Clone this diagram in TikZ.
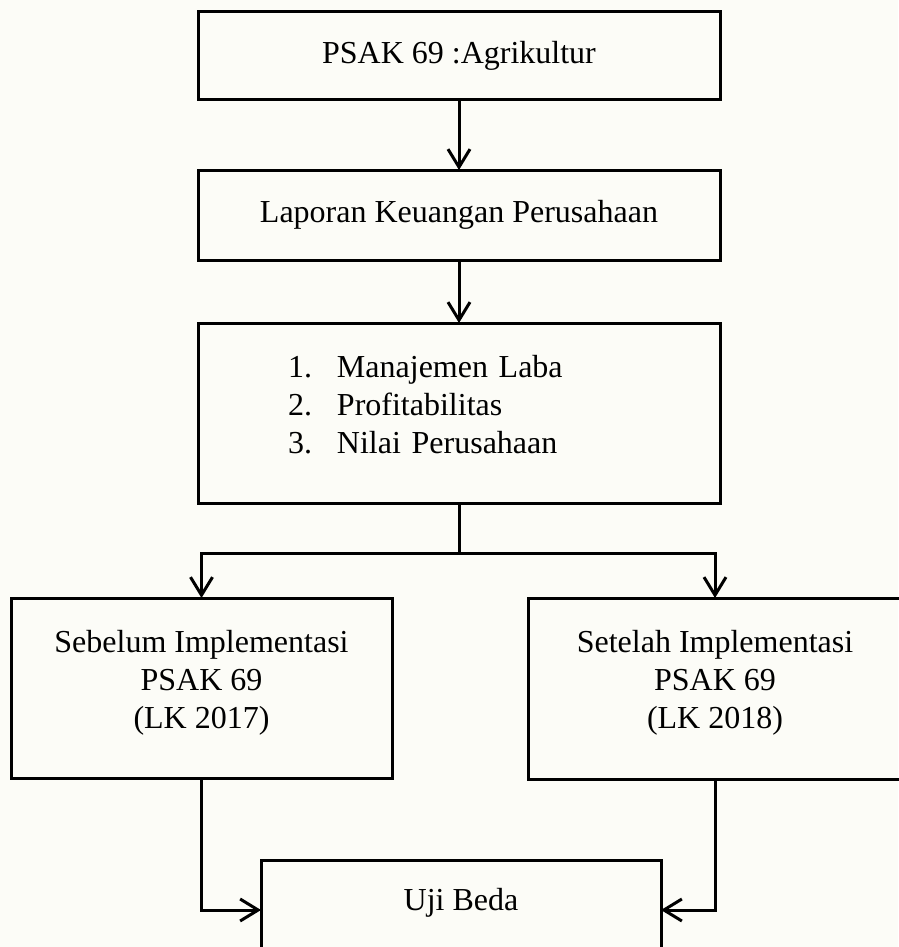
\documentclass[tikz,border=0pt]{standalone}
\usepackage{fontspec}
\setmainfont{Liberation Serif}
\usetikzlibrary{arrows.meta,
                positioning
                }
\definecolor{kertas}{RGB}{252,252,247}

\begin{document}
\begin{tikzpicture}[x=1pt, y=1pt,
          line width=3pt,
          node distance = 70pt,
      box/.style = {draw, rectangle, inner sep=0pt, outer sep=0pt, align=center,
                    font=\fontsize{32}{38}\selectfont},
      arr/.style = {-{Straight Barb[length=18pt,width=22pt]}}
      ]
    \fill[kertas] (0,0) rectangle (898,-947);
    \useasboundingbox (0,0) rectangle (898,-947);
    % alur atas
    \node (psak)   [box, minimum width=522pt, minimum height=88pt] at (459,-56) {PSAK 69 :Agrikultur};
    \node (lapkeu) [box, minimum width=522pt, minimum height=90pt, below=of psak] {Laporan Keuangan Perusahaan};
    \node (var)    [box, minimum width=522pt, minimum height=180pt, below=63pt of lapkeu,
                    align=left, text width=342pt, text depth=94pt]
                   {\makebox[49pt][l]{1.}Manajemen Laba\\
                    \makebox[49pt][l]{2.}Profitabilitas\\
                    \makebox[49pt][l]{3.}Nilai Perusahaan};
    % perbandingan
    \node (sebelum) [box, minimum width=381pt, minimum height=180pt, text depth=18pt] at (201.5,-688)
                    {Sebelum Implementasi\\ PSAK 69\\ (LK 2017)};
    \node (setelah) [box, minimum width=374pt, minimum height=181pt, text depth=18pt] at (715,-688.5)
                    {Setelah Implementasi\\ PSAK 69\\ (LK 2018)};
    \node (uji)     [box, minimum width=400pt, minimum height=100pt, text depth=22pt] at (461,-910) {Uji Beda};
    % panah
    \draw[arr] (psak) -- (lapkeu);
    \draw[arr] (lapkeu) -- (var);
    \coordinate (cabang) at (459,-553);
    \draw (var.south) -- (cabang);
    \draw[arr] (cabang) -| (sebelum.north);
    \draw[arr] (cabang) -| (setelah.north);
    \draw[arr] (sebelum.south) |- (uji.west);
    \draw[arr] (setelah.south) |- (uji.east);
\end{tikzpicture}
\end{document}
